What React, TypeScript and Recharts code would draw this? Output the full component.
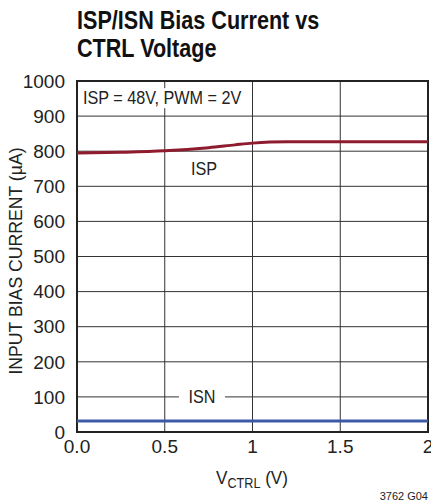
import React from 'react';
import { LineChart, Line, XAxis, YAxis, CartesianGrid, ReferenceArea, ReferenceDot } from 'recharts';

const vctrl = [0, 0.25, 0.5, 0.75, 0.9, 1.0, 1.1, 1.2, 1.5, 2.0];
const ispCurrent = [795, 797, 801, 810, 818, 823, 826, 827, 827, 827];
const isnCurrent = [31, 31, 31, 31, 31, 31, 31, 31, 31, 31];
const xTicks = [0, 0.5, 1, 1.5, 2];
const xTickLabels = ['0.0', '0.5', '1', '1.5', '2'];
const yTicks = [0, 100, 200, 300, 400, 500, 600, 700, 800, 900, 1000];

const data = vctrl.map((v, i) => ({ v, isp: ispCurrent[i], isn: isnCurrent[i] }));

const FONT = '"Liberation Sans", Arial, sans-serif';

const TextTag = (props: any) => {
  const { cx, cy, text, w, align } = props;
  if (cx == null || cy == null) return null;
  const x0 = align === 'start' ? cx - 4 : cx - w / 2;
  return (
    <g>
      <rect x={x0} y={cy - 10} width={w} height={20} fill="#fff" />
      <text transform={`translate(${cx},${cy + 6}) scale(0.9,1)`} textAnchor={align === 'start' ? 'start' : 'middle'}
        fontFamily={FONT} fontSize={18} fill="#222">{text}</text>
    </g>
  );
};

export default function App() {
  return (
    <div style={{ position: 'absolute', left: 0, top: 0, width: 431, height: 504, background: '#fff' }}>
      <div style={{ position: 'absolute', left: 77, top: 6, fontFamily: FONT, fontWeight: 'bold', fontSize: 26, lineHeight: '28px', color: '#111', transform: 'scaleX(0.83)', transformOrigin: 'left top', whiteSpace: 'nowrap' }}>
        ISP/ISN Bias Current vs<br />CTRL Voltage
      </div>
      <LineChart width={431} height={504} data={data} margin={{ top: 81, right: 3, left: 17, bottom: 42 }}>
        <CartesianGrid stroke="#333" strokeWidth={1} horizontalValues={yTicks} verticalValues={xTicks} />
        <XAxis dataKey="v" type="number" domain={[0, 2]} ticks={xTicks} tickFormatter={(v: number) => xTickLabels[xTicks.indexOf(v)]}
          tickLine={false} axisLine={false} height={30} interval={0}
          tick={{ fontFamily: FONT, fontSize: 19, fill: '#222' }} tickMargin={2} />
        <YAxis type="number" domain={[0, 1000]} ticks={yTicks} tickLine={false} axisLine={false} width={60} interval={0}
          tick={{ fontFamily: FONT, fontSize: 19, fill: '#222' }} tickMargin={6} />
        <ReferenceArea x1={0} x2={2} y1={0} y2={1000} fill="none" stroke="#222" strokeWidth={2} ifOverflow="visible" />
        <ReferenceDot x={0.034} y={951} r={0} ifOverflow="visible" shape={(p: any) => <TextTag {...p} text="ISP = 48V, PWM = 2V" w={166} align="start" />} />
        <ReferenceDot x={0.724} y={749} r={0} ifOverflow="visible" shape={(p: any) => <TextTag {...p} text="ISP" w={30} />} />
        <ReferenceDot x={0.712} y={100} r={0} ifOverflow="visible" shape={(p: any) => <TextTag {...p} text="ISN" w={46} />} />
        <Line type="monotone" dataKey="isp" stroke="#8E1B2E" strokeWidth={3} dot={false} isAnimationActive={false} />
        <Line type="monotone" dataKey="isn" stroke="#3D5AA6" strokeWidth={3} dot={false} isAnimationActive={false} />
      </LineChart>
      <div style={{ position: 'absolute', left: 4, top: 261, width: 24, height: 0 }}>
        <div style={{ position: 'absolute', left: 0, top: 0, transform: 'translate(-50%, -50%) rotate(-90deg) scaleX(0.98)', transformOrigin: 'center', whiteSpace: 'nowrap', fontFamily: FONT, fontSize: 18, color: '#222', marginLeft: 12 }}>
          INPUT BIAS CURRENT (µA)
        </div>
      </div>
      <div style={{ position: 'absolute', left: 252, top: 478, transform: 'translate(-50%, -50%) scaleX(0.9)', whiteSpace: 'nowrap', fontFamily: FONT, fontSize: 19, color: '#222' }}>
        V<sub style={{ fontSize: 14, verticalAlign: 'baseline', position: 'relative', top: 4 }}>CTRL</sub> (V)
      </div>
      <div style={{ position: 'absolute', right: 3, top: 490, whiteSpace: 'nowrap', fontFamily: FONT, fontSize: 11, color: '#222' }}>
        3762 G04
      </div>
    </div>
  );
}
